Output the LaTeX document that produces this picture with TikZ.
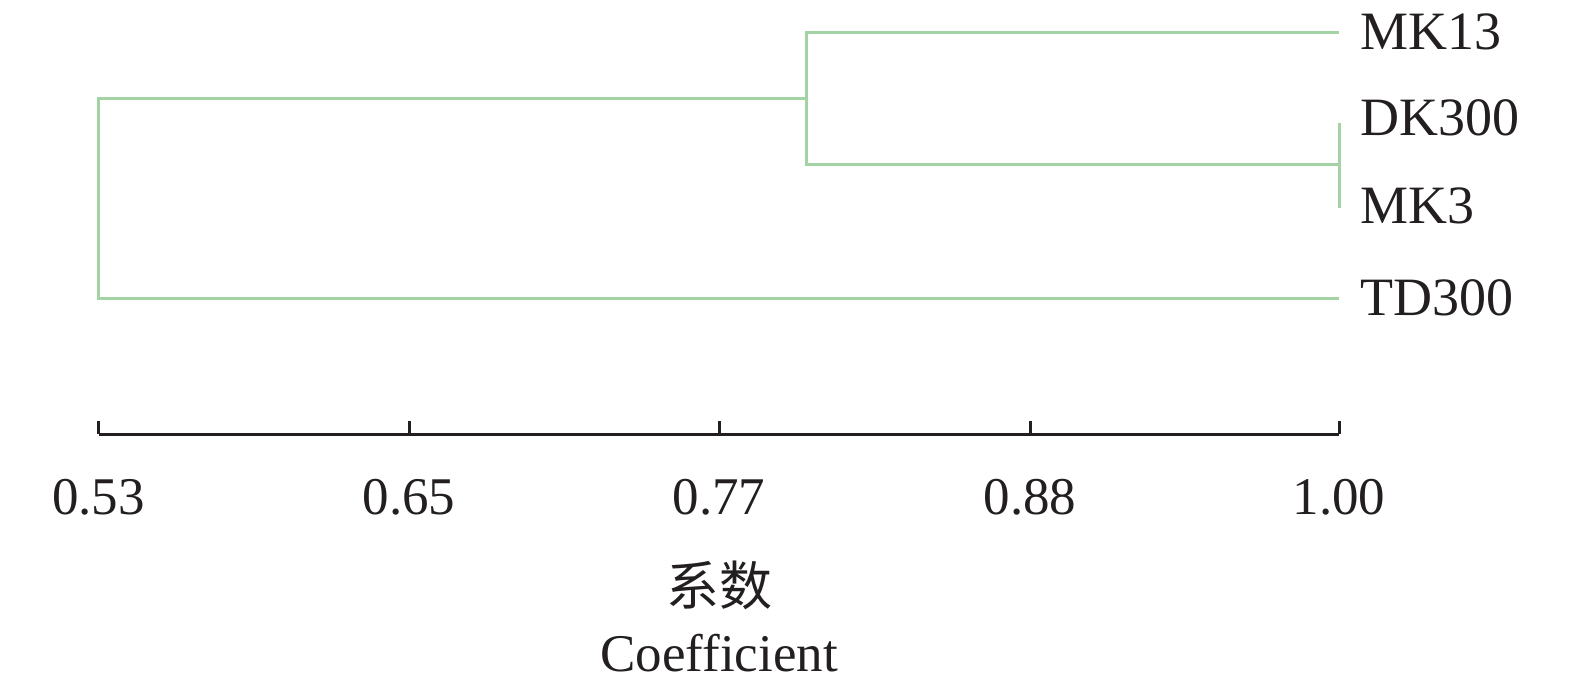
\documentclass[tikz,border=0pt]{standalone}
\usepackage{fontspec}
\setmainfont{Liberation Serif}
\newfontfamily\cjk{Noto Sans CJK SC}
\definecolor{treegreen}{RGB}{163,210,165}
\definecolor{inkblack}{RGB}{35,31,32}

\begin{document}
\begin{tikzpicture}[
    x=0.5pt, y=-0.5pt,
    branch/.style = {line width=1.5pt, draw=treegreen},
    axis/.style   = {line width=1.5pt, draw=inkblack},
    leaf/.style   = {anchor=west, inner sep=0pt, text=inkblack,
                     font=\fontsize{27}{30}\selectfont},
    ticklab/.style = {inner sep=0pt, text=inkblack,
                     font=\fontsize{26.5}{30}\selectfont}
]
\useasboundingbox (0,0) rectangle (1575,686);

% leaf labels and the free ends of their branches
\foreach \name/\y in {MK13/32, DK300/118, MK3/206, TD300/298} {
    \node[leaf] (\name) at (1360,\y) {\name};
    \coordinate (e\name) at (1339,\y);
}

% joins
\coordinate (jDM) at (1339,164);   % DK300 + MK3 at 1.00
\coordinate (jIn) at (806,98);     % inner cluster
\coordinate (jRoot) at (98.5,298); % root

% dendrogram branches
\draw[branch] (1339,122.5) -- (1339,208);
\draw[branch] (eMK13) -| (806,164) -- (jDM);
\draw[branch] (jIn) -| (jRoot) -- (eTD300);

% coefficient axis
\coordinate (a0) at (98.5,434);
\coordinate (a1) at (1339,434);
\draw[axis] (a0) -- (a1);
\foreach \x/\v [count=\i] in {98.5/0.53, 409/0.65, 719/0.77, 1030/0.88, 1339/1.00} {
    \draw[axis] (\x,434) -- (\x,421);
    \node[ticklab] (t\i) at (\x,497) {\v};
}

% axis title
\node[ticklab] (titlecn) at (719,585) {\cjk 系数};
\node[ticklab] (titleen) at (719,653) {Coefficient};

\end{tikzpicture}
\end{document}
